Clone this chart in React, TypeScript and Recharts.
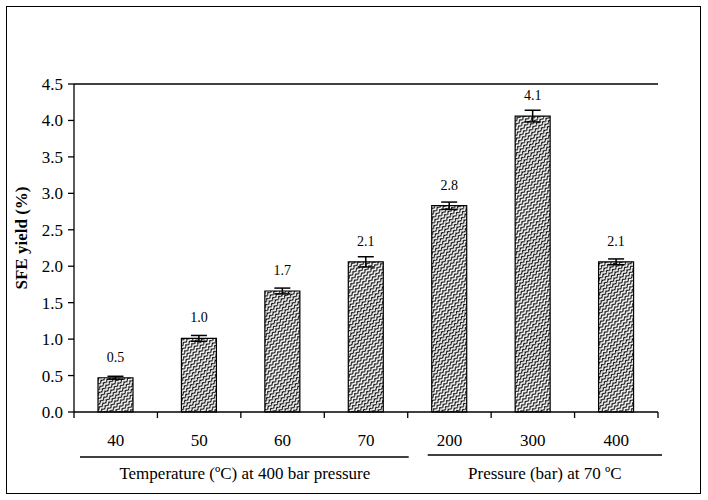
import React from "react"
import { BarChart, Bar, XAxis, YAxis, ErrorBar, LabelList, ReferenceLine } from "recharts"

const categories = ["40", "50", "60", "70", "200", "300", "400"]
const yields = [0.47, 1.01, 1.66, 2.06, 2.83, 4.06, 2.06]
const errors = [0.02, 0.04, 0.04, 0.07, 0.05, 0.08, 0.04]
const groupOf = [0, 0, 0, 0, 1, 1, 1]
const groupNames = ["Temperature (ºC) at 400 bar pressure", "Pressure (bar) at 70 ºC"]
const yTicks = [0, 0.5, 1, 1.5, 2, 2.5, 3, 3.5, 4, 4.5]

const data = categories.map((c, i) => ({ cat: c, value: yields[i], err: errors[i] }))

const FONT = "Liberation Serif"

function CategoryTick(props: any) {
  const { x, y, payload, index, width } = props
  const half = payload?.offset ?? width / (2 * categories.length)
  const axisY = y - 20
  const g = groupOf[index]
  const first = groupOf.indexOf(g) === index
  const count = groupOf.filter((v) => v === g).length
  const left = x - half
  const right = left + count * 2 * half
  const isLast = index === categories.length - 1
  return (
    <g>
      <line x1={x - half} x2={x - half} y1={axisY} y2={axisY + 6} stroke="#000" strokeWidth={1.3} />
      {isLast && <line x1={x + half} x2={x + half} y1={axisY} y2={axisY + 6} stroke="#000" strokeWidth={1.3} />}
      <text x={x} y={axisY + 28} textAnchor="middle" dominantBaseline="central" fontSize={17} fontFamily={FONT} fill="#000">
        {payload.value}
      </text>
      {first && (
        <g>
          <line x1={left + (g === 0 ? 6 : 20)} x2={right + (g === 0 ? 1 : 4)} y1={axisY + (g === 0 ? 45 : 43)} y2={axisY + (g === 0 ? 45 : 43)} stroke="#000" strokeWidth={1.3} />
          <text x={(left + right) / 2 + (g === 0 ? 4 : 12)} y={axisY + 61} textAnchor="middle" dominantBaseline="central" fontSize={17} fontFamily={FONT} fill="#000">
            {groupNames[g]}
          </text>
        </g>
      )}
    </g>
  )
}

export default function App() {
  return (
    <div style={{ position: "absolute", left: 0, top: 0, width: 708, height: 500, background: "#fff" }}>
      <div style={{ position: "absolute", left: 6, top: 6, width: 695, height: 488, border: "1.5px solid #000", boxSizing: "border-box", pointerEvents: "none" }} />
      <BarChart width={708} height={500} data={data} margin={{ top: 84, right: 50, bottom: 8, left: 0 }} barSize={35}>
        <defs>
          <pattern id="zigzag" width="5" height="3.5" patternUnits="userSpaceOnUse" patternTransform="rotate(-45)">
            <rect width="5" height="3.5" fill="#fff" />
            <path d="M0,2.8 L2.5,0.7 L5,2.8" fill="none" stroke="#000" strokeWidth={1.1} />
          </pattern>
        </defs>
        <XAxis
          dataKey="cat"
          height={80}
          axisLine={{ stroke: "#000", strokeWidth: 1.3 }}
          tickLine={false}
          tickSize={0}
          tickMargin={20}
          interval={0}
          tick={<CategoryTick />}
        />
        <YAxis
          width={74}
          domain={[0, 4.5]}
          ticks={yTicks}
          tickFormatter={(v: number) => v.toFixed(1)}
          axisLine={{ stroke: "#000", strokeWidth: 1.3 }}
          tickLine={{ stroke: "#000", strokeWidth: 1.3 }}
          tickSize={6}
          tickMargin={5}
          tick={{ fontSize: 17, fontFamily: FONT, fill: "#000" }}
          label={{
            content: (p: any) => {
              const vb = p.viewBox
              const cx = vb.x + 21
              const cy = vb.y + vb.height / 2 - 10
              return (
                <text x={cx} y={cy} transform={`rotate(-90, ${cx}, ${cy})`} textAnchor="middle" dominantBaseline="central" fontSize={17} fontWeight="bold" fontFamily={FONT} fill="#000">
                  SFE yield (%)
                </text>
              )
            },
          }}
        />
        <YAxis yAxisId="right" orientation="right" width={0} domain={[0, 1]} tick={false} tickLine={false} axisLine={{ stroke: "#000", strokeWidth: 1.3 }} />
        <ReferenceLine y={4.5} stroke="#000" strokeWidth={1.3} />
        <Bar dataKey="value" fill="url(#zigzag)" stroke="#000" strokeWidth={1.2} isAnimationActive={false}>
          <ErrorBar dataKey="err" width={8} stroke="#000" strokeWidth={1.5} direction="y" />
          <LabelList
            dataKey="value"
            position="top"
            offset={16}
            formatter={(v: number) => v.toFixed(1)}
            style={{ fontSize: 14, fontFamily: FONT, fill: "#000" }}
          />
        </Bar>
      </BarChart>
    </div>
  )
}
